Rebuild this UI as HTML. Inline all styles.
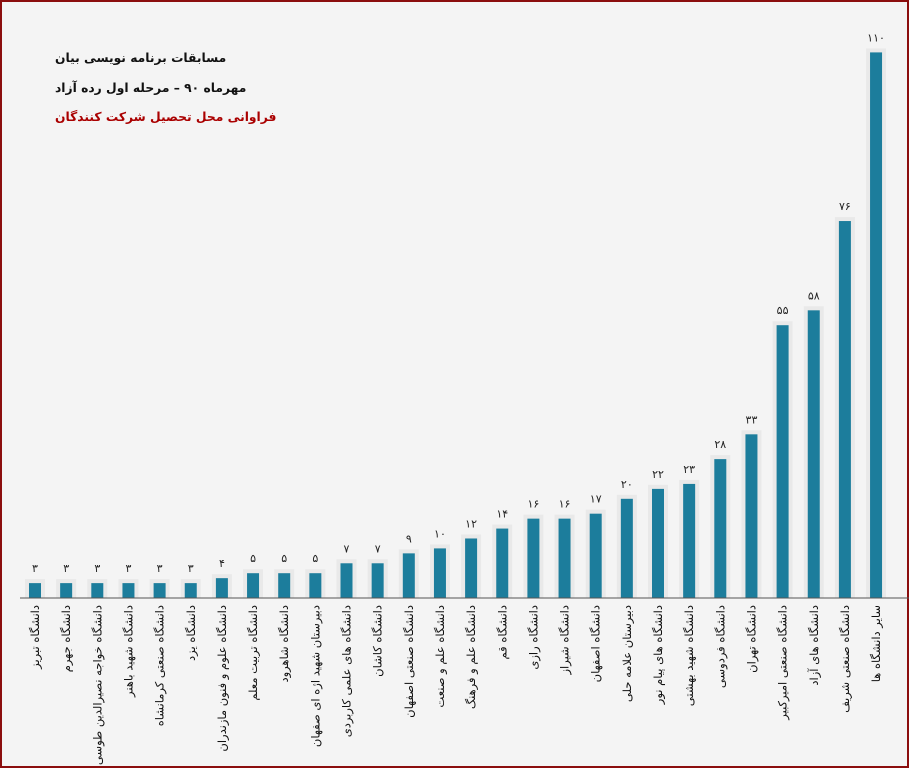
<!DOCTYPE html>
<html><head><meta charset="utf-8"><style>
html,body{margin:0;padding:0;background:#f4f4f4;}
svg{display:block;}
text{font-family:"DejaVu Sans","Liberation Sans",sans-serif;}
</style></head><body>
<svg width="909" height="768" xmlns="http://www.w3.org/2000/svg">
<rect x="0" y="0" width="909" height="768" fill="#f4f4f4"/>
<rect x="1" y="1" width="907" height="766" fill="none" stroke="#8b0e0e" stroke-width="2"/>
<text x="55" y="62" font-size="12.3" font-weight="bold" fill="#111">مسابقات برنامه نویسی بیان</text>
<text x="55" y="92" font-size="12.3" font-weight="bold" fill="#111">مهرماه ۹۰ – مرحله اول رده آزاد</text>
<text x="55" y="121" font-size="12.3" font-weight="bold" fill="#a00">فراوانی محل تحصیل شرکت کنندگان</text>
<g id="bars"></g>
<line x1="20" y1="598" x2="909" y2="598" stroke="#555" stroke-width="1"/>
</svg>
<script>
const vals=[3,3,3,3,3,3,4,5,5,5,7,7,9,10,12,14,16,16,17,20,22,23,28,33,55,58,76,110];
const labels=["دانشگاه تبریز","دانشگاه جهرم","دانشگاه خواجه نصیرالدین طوسی","دانشگاه شهید باهنر","دانشگاه صنعتی کرمانشاه","دانشگاه یزد","دانشگاه علوم و فنون مازندران","دانشگاه تربیت معلم","دانشگاه شاهرود","دبیرستان شهید اژه ای صفهان","دانشگاه های علمی کاربردی","دانشگاه کاشان","دانشگاه صنعتی اصفهان","دانشگاه علم و صنعت","دانشگاه علم و فرهنگ","دانشگاه قم","دانشگاه رازی","دانشگاه شیراز","دانشگاه اصفهان","دبیرستان علامه حلی","دانشگاه های پیام نور","دانشگاه شهید بهشتی","دانشگاه فردوسی","دانشگاه تهران","دانشگاه صنعتی امیرکبیر","دانشگاه های آزاد","دانشگاه صنعتی شریف","سایر دانشگاه ها"];
const fa=n=>String(n).replace(/\d/g,d=>"۰۱۲۳۴۵۶۷۸۹"[d]);
let s="";
vals.forEach((v,i)=>{
 const cx=35+i*31.15, h=v*4.96, top=598-h;
 s+=`<rect x="${cx-10}" y="${top-4}" width="20" height="${h+4}" fill="#e9e9e9"/>`;
 s+=`<rect x="${cx-6}" y="${top}" width="12" height="${h}" fill="#1c7d9c"/>`;
 s+=`<text x="${cx}" y="${top-11}" font-size="11" text-anchor="middle" fill="#222">${fa(v)}</text>`;
 s+=`<text transform="translate(${cx+4},605) rotate(-90)" font-size="11.5" text-anchor="end" fill="#111">${labels[i]}</text>`;
});
document.getElementById("bars").innerHTML=s;
</script>
</body></html>
